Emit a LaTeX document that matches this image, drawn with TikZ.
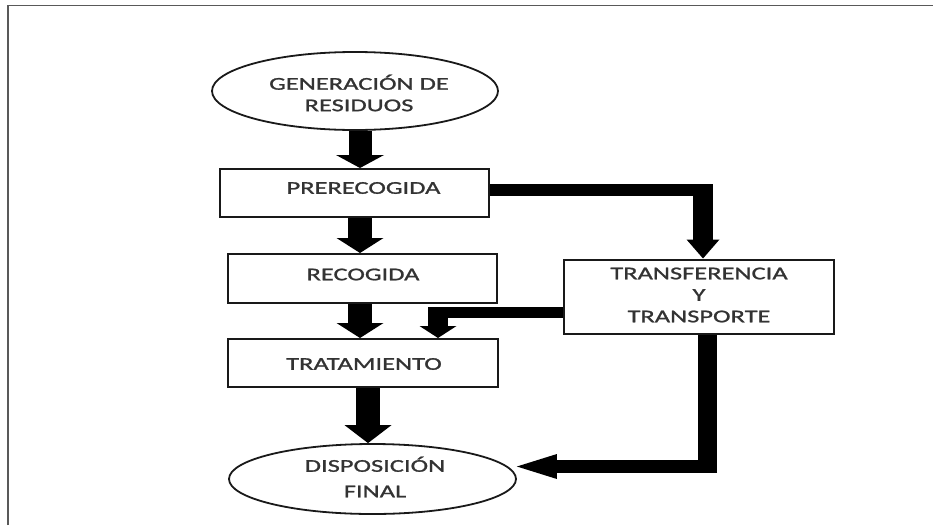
\documentclass[tikz,border=0pt]{standalone}
\usepackage{fontspec}
\newfontfamily\diagfont[FakeStretch=1.47,FakeBold=1.2]{Carlito}
\usetikzlibrary{arrows.meta,shapes.geometric}
\begin{document}
\begin{tikzpicture}[x=1pt,y=-1pt,
  lbl/.style={font=\diagfont\fontsize{18}{21.5}\selectfont, text=black!80, align=center, inner sep=0pt},
  boxn/.style={draw=black!90, line width=2pt, rectangle, inner sep=0pt},
  elln/.style={draw=black!90, line width=1.8pt, ellipse, inner sep=0pt},
  conn/.style n args={3}{draw=black, line width=#1, -{Triangle[width=#2 0 0, length=#3 0 0, line width=0pt]}},
  bar/.style={draw=black, line width=#1},
  frame/.style={draw=black!65, line width=1.5pt}
]
\useasboundingbox (0,0) rectangle (933,525);
\draw[frame] (8,525) -- (8,5.5) -- (933,5.5);

% shapes
\node[elln, minimum width=286pt, minimum height=78pt] (gen) at (355,91) {};
\node[boxn, minimum width=269pt, minimum height=48pt] (pre) at (354.5,193) {};
\node[boxn, minimum width=269pt, minimum height=49pt] (rec) at (362.5,278.5) {};
\node[boxn, minimum width=270pt, minimum height=48pt] (trat) at (363,363) {};
\node[boxn, minimum width=270pt, minimum height=74pt] (tt) at (699,296.5) {};
\node[elln, minimum width=287pt, minimum height=70pt] (disp) at (372.5,479) {};

% texts
\node[lbl] (gen-t) at (359,93) {GENERACIÓN DE\\RESIDUOS};
\node[lbl] (pre-t) at (363.5,188) {PRERECOGIDA};
\node[lbl] (rec-t) at (363,274.5) {RECOGIDA};
\node[lbl] (trat-t) at (364,364) {TRATAMIENTO};
\node[lbl] (tt-t) at (699,295) {TRANSFERENCIA\\Y\\TRANSPORTE};
\node[lbl] (disp-t) at (375,477) {DISPOSICIÓN\\[4pt]FINAL};

% straight arrows
\draw[conn={23pt}{48pt}{13pt}] (gen.south -| 360,0) -- (pre.north -| 360,0);
\draw[conn={24pt}{47pt}{15pt}] (pre.south -| 360,0) -- (rec.north -| 360,0);
\draw[conn={24pt}{47pt}{15pt}] (rec.south -| 360,0) -- (trat.north -| 360,0);
\draw[conn={24pt}{47pt}{18pt}] (trat.south -| 368,0) -- (disp.north -| 368,0);

% PRERECOGIDA -> TRANSFERENCIA Y TRANSPORTE
\coordinate (k1) at (703,190);
\draw[bar=12pt] (pre.east |- k1) -- ([xshift=10pt]k1);
\draw[conn={20pt}{33pt}{19pt}] ([yshift=6pt]k1) -- (tt.north -| k1);

% TRANSFERENCIA Y TRANSPORTE -> TRATAMIENTO
\coordinate (k2) at (438,312.5);
\draw[bar=11pt] (tt.west |- k2) -- ([xshift=-10pt]k2);
\draw[conn={20pt}{37pt}{12pt}] ([yshift=5.5pt]k2) -- (trat.north -| k2);

% TRANSFERENCIA Y TRANSPORTE -> DISPOSICION FINAL
\coordinate (k3) at (707.5,466.5);
\draw[bar=19pt] (tt.south -| k3) -- ([yshift=-6.5pt]k3);
\draw[conn={13pt}{25pt}{40pt}] ([xshift=9.5pt]k3) -- (disp.east |- k3);
\end{tikzpicture}
\end{document}
